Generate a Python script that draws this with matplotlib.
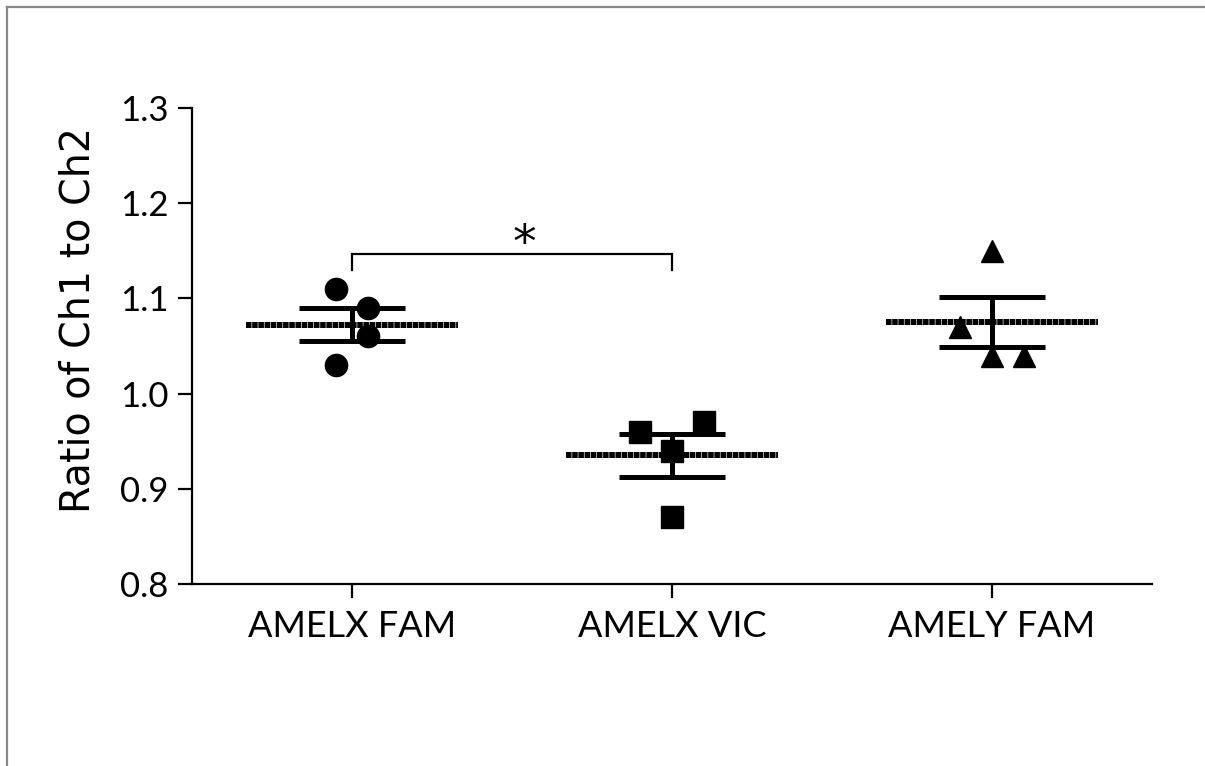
import matplotlib.pyplot as plt
import numpy as np
from matplotlib.lines import Line2D

plt.rcParams['font.family'] = ['Lato', 'DejaVu Sans']
plt.rcParams['lines.scale_dashes'] = False

# Ratio values per assay (four replicates each)
groups = ["AMELX FAM", "AMELX VIC", "AMELY FAM"]
amelx_fam = [1.03, 1.11, 1.09, 1.06]
amelx_vic = [0.96, 0.97, 0.94, 0.87]
amely_fam = [1.15, 1.07, 1.04, 1.04]
values = [amelx_fam, amelx_vic, amely_fam]

# sideways spread of the points so they don't sit on top of each other
spread = [[-0.05, -0.05, 0.05, 0.05],
          [-0.1, 0.1, 0.0, 0.0],
          [0.0, -0.1, 0.0, 0.1]]
markers = ["o", "s", "^"]

fig = plt.figure(figsize=(12.05, 7.66), dpi=100)
ax = fig.add_axes([192 / 1205, 1 - 584 / 766, 960 / 1205, 476 / 766])

for i, vals in enumerate(values):
    vals = np.array(vals)
    xs = i + np.array(spread[i])
    ax.plot(xs, vals, linestyle="none", marker=markers[i], ms=16,
            color="black", zorder=3)
    mean = vals.mean()
    sem = vals.std(ddof=1) / np.sqrt(len(vals))
    # mean line
    ax.hlines(mean, i - 0.33, i + 0.33, color="black", lw=4.3,
              linestyles=[(0, (4.0, 0.45))], zorder=2)
    # SEM bar
    ax.errorbar(i, mean, yerr=sem, fmt="none", ecolor="black",
                elinewidth=3.6, capthick=3.6, capsize=38, zorder=2)

# significance bracket between the two AMELX assays
ax.plot([0, 0, 1, 1], [1.13, 1.147, 1.147, 1.13], color="black", lw=1.6,
        solid_joinstyle="miter", zorder=2)
ax.text(0.54, 1.143, "*", ha="center", va="baseline", fontsize=34,
        family="DejaVu Sans")

ax.set_xlim(-0.5, 2.5)
ax.set_ylim(0.8, 1.3)
ax.set_yticks([0.8, 0.9, 1.0, 1.1, 1.2, 1.3])
ax.set_yticklabels(["0.8", "0.9", "1.0", "1.1", "1.2", "1.3"])
ax.set_xticks(range(len(groups)))
ax.set_xticklabels(groups)

for side in ["top", "right"]:
    ax.spines[side].set_visible(False)
for side in ["left", "bottom"]:
    ax.spines[side].set_linewidth(1.6)
ax.tick_params(axis="both", length=10, width=1.6, labelsize=25, color="black")
ax.tick_params(axis="y", pad=7)
ax.tick_params(axis="x", pad=9, labelsize=26)

fig.text(78 / 1205, 1 - 320 / 766, "Ratio of Ch1 to Ch2", rotation=90,
         ha="center", va="center", fontsize=28.5, family="DejaVu Sans")

# thin grey frame along the top and left edges
fig.add_artist(Line2D([7 / 1205, 1], [1 - 7 / 766, 1 - 7 / 766],
                      color="#888888", lw=1.6, transform=fig.transFigure))
fig.add_artist(Line2D([7 / 1205, 7 / 1205], [0, 1 - 7 / 766],
                      color="#888888", lw=1.6, transform=fig.transFigure))

fig.savefig("out.png", dpi=100, facecolor="white")
